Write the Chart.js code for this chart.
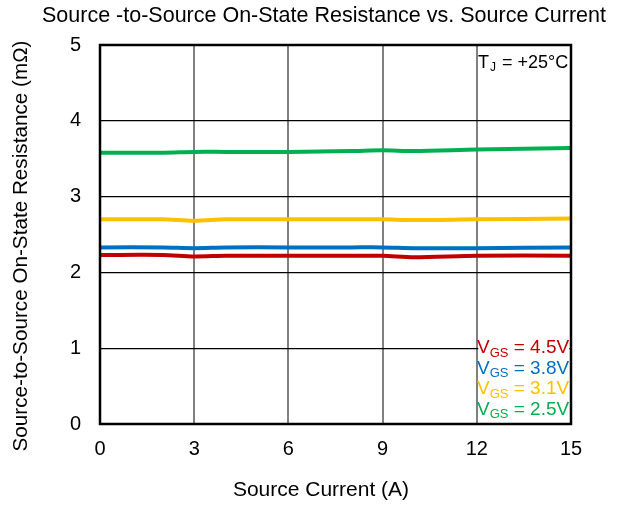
<!DOCTYPE html>
<html>
<head>
<meta charset="utf-8">
<script src="https://cdn.jsdelivr.net/npm/chart.js@4.4.0/dist/chart.umd.min.js"></script>
<style>
  html, body { margin: 0; padding: 0; background: #fff; }
  #wrap { width: 624px; height: 507px; }
</style>
</head>
<body>
<div id="wrap"><canvas id="chart" width="624" height="507"></canvas></div>
<script>
// Source current (A) sample points
const current = [0, 2, 3, 4, 6, 8, 9, 10, 12, 15];

// On-state resistance (mOhm) per gate voltage
const r45 = [2.23, 2.23, 2.21, 2.22, 2.22, 2.22, 2.22, 2.20, 2.22, 2.22];
const r38 = [2.33, 2.33, 2.32, 2.33, 2.33, 2.33, 2.33, 2.32, 2.32, 2.33];
const r31 = [2.70, 2.70, 2.68, 2.70, 2.70, 2.70, 2.70, 2.69, 2.70, 2.71];
const r25 = [3.58, 3.58, 3.59, 3.59, 3.59, 3.60, 3.61, 3.60, 3.62, 3.64];

const xTicks = [0, 3, 6, 9, 12, 15];
const yTicks = [0, 1, 2, 3, 4, 5];

const series = [
  { label: '4.5V', data: r45, color: '#c00000' },
  { label: '3.8V', data: r38, color: '#0070c0' },
  { label: '3.1V', data: r31, color: '#ffc000' },
  { label: '2.5V', data: r25, color: '#00b050' }
];

const FONT = '"Liberation Sans", Arial, sans-serif';

function toPoints(arr) {
  return arr.map((v, i) => ({ x: current[i], y: v }));
}

// Draws frame, titles and the in-plot labels
const decor = {
  id: 'decor',
  afterDatasetsDraw(chart) {
    const { ctx, chartArea: a } = chart;
    ctx.save();

    // legend background
    ctx.fillStyle = '#fff';
    ctx.fillRect(a.left + (a.right - a.left) * 12 / 15 + 1.5, 336, 91, 84);

    // plot frame
    ctx.strokeStyle = '#000';
    ctx.lineWidth = 2.5;
    ctx.strokeRect(a.left, a.top, a.right - a.left, a.bottom - a.top);

    ctx.fillStyle = '#000';
    ctx.textBaseline = 'middle';

    // chart title
    ctx.font = '21.5px ' + FONT;
    ctx.textAlign = 'center';
    ctx.fillText('Source -to-Source On-State Resistance vs. Source Current', 324, 16);

    // x axis title
    ctx.font = '21px ' + FONT;
    ctx.fillText('Source Current (A)', 321, 490);

    // y axis title
    ctx.save();
    ctx.translate(21, 246);
    ctx.rotate(-Math.PI / 2);
    ctx.font = '20.7px ' + FONT;
    ctx.fillText('Source-to-Source On-State Resistance (m\u03a9)', 0, 0);
    ctx.restore();

    // Tj label
    ctx.textAlign = 'left';
    let x = 478;
    ctx.font = '18px ' + FONT;
    ctx.fillText('T', x, 63);
    x += ctx.measureText('T').width;
    ctx.font = '12px ' + FONT;
    ctx.fillText('J', x + 1, 68);
    x += ctx.measureText('J').width + 2;
    ctx.font = '18px ' + FONT;
    ctx.fillText(' = +25\u00b0C', x, 63);

    // gate voltage legend
    const rows = [0, 1, 2, 3];
    rows.forEach(i => {
      const s = series[i];
      const y = 348 + i * 20.5;
      let lx = 477;
      ctx.fillStyle = s.color;
      ctx.font = '19px ' + FONT;
      ctx.fillText('V', lx, y);
      lx += ctx.measureText('V').width;
      ctx.font = '13px ' + FONT;
      ctx.fillText('GS', lx, y + 5);
      lx += ctx.measureText('GS').width;
      ctx.font = '19px ' + FONT;
      ctx.fillText(' = ' + s.label, lx, y);
    });

    ctx.restore();
  }
};

new Chart(document.getElementById('chart'), {
  type: 'line',
  data: {
    datasets: series.map(s => ({
      label: s.label,
      data: toPoints(s.data),
      borderColor: s.color,
      backgroundColor: s.color,
      borderWidth: 4,
      pointRadius: 0,
      tension: 0.3,
      fill: false
    }))
  },
  options: {
    responsive: false,
    animation: false,
    layout: { padding: { top: 45, right: 53, left: 0, bottom: 0 } },
    plugins: {
      legend: { display: false },
      title: { display: false },
      tooltip: { enabled: false }
    },
    scales: {
      x: {
        type: 'linear',
        min: 0,
        max: 15,
        afterBuildTicks: scale => { scale.ticks = xTicks.map(v => ({ value: v })); },
        afterFit: scale => { scale.height = 83; },
        grid: { color: '#808080', lineWidth: 2, drawTicks: false },
        border: { display: false },
        ticks: { color: '#000', font: { family: FONT, size: 20 }, padding: 13 }
      },
      y: {
        min: 0,
        max: 5,
        afterBuildTicks: scale => { scale.ticks = yTicks.map(v => ({ value: v })); },
        afterFit: scale => { scale.width = 100; },
        grid: { color: '#000', lineWidth: 1.2, drawTicks: false },
        border: { display: false },
        ticks: { color: '#000', font: { family: FONT, size: 20 }, padding: 19 }
      }
    }
  },
  plugins: [decor]
});
</script>
</body>
</html>
